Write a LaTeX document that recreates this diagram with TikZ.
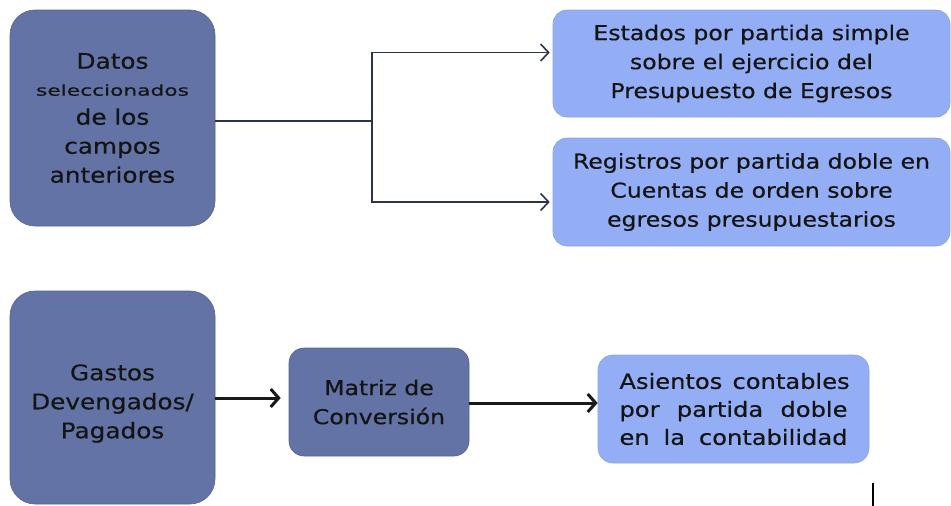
\documentclass[tikz,border=0pt]{standalone}
\usepackage{fontspec}
\usepackage{tikz}
\usepackage{xcolor}
\usetikzlibrary{arrows.meta}
\newfontfamily\diagfont{DejaVu Sans}[FakeStretch=1.15,FakeBold=0.5]
\newfontfamily\widefont{DejaVu Sans}[FakeStretch=1.45,FakeBold=0.5]
\definecolor{slatebox}{HTML}{6373A6}
\definecolor{skybox}{HTML}{94AEF5}
\definecolor{inkline}{HTML}{2B3350}
\tikzset{
  darkbox/.style={fill=slatebox, draw=slatebox!85!black, line width=0.6pt, rounded corners=25pt,
    align=center, inner sep=0pt, text=black!92, font=\diagfont\fontsize{21.5}{29}\selectfont},
  lightbox/.style={fill=skybox, draw=skybox!75!gray, line width=0.6pt, rounded corners=14pt,
    align=center, inner sep=0pt, text=black!92, font=\diagfont\fontsize{20.5}{29}\selectfont},
  thinarrow/.style={draw=inkline, line width=1.6pt, -{Straight Barb[length=8pt,width=17pt,line width=1.6pt]}},
  thickarrow/.style={draw=black!90, line width=3pt, -{Straight Barb[length=8pt,width=18pt,line width=3pt]}}
}
\newcommand{\fullline}[1]{\makebox[228pt][s]{#1}}
\begin{document}
\begin{tikzpicture}[x=1pt,y=-1pt]
\useasboundingbox (0,0) rectangle (951,506);
% upper row
\node[darkbox, minimum width=205pt, minimum height=216pt] (datos) at (112.5,118)
  {Datos\\[-2pt]{\widefont\fontsize{15}{20}\selectfont seleccionados}\\de los\\campos\\anteriores};
\node[lightbox, minimum width=397pt, minimum height=107pt] (estados) at (751.5,63.5)
  {Estados por partida simple\\sobre el ejercicio del\\Presupuesto de Egresos};
\node[lightbox, minimum width=397pt, minimum height=108pt] (registros) at (751.5,192)
  {Registros por partida doble en\\Cuentas de orden sobre\\egresos presupuestarios};
\coordinate (split) at (372,121);
\draw[draw=inkline, line width=1.8pt] (datos.east |- split) -- (split);
\draw[thinarrow] (split) |- ([xshift=-3pt,yshift=11pt]estados.west);
\draw[thinarrow] (split) |- ([xshift=-3pt,yshift=-10pt]registros.west);
% lower row
\node[darkbox, minimum width=205pt, minimum height=213pt] (gastos) at (112.5,397.5)
  {\rule{0pt}{28pt}Gastos\\Devengados/\\Pagados};
\node[darkbox, font=\diagfont\fontsize{20.5}{29}\selectfont, rounded corners=15pt,
  minimum width=180pt, minimum height=108pt] (matriz) at (379,402)
  {Matriz de\\Conversión};
\node[lightbox, font=\diagfont\fontsize{21}{28}\selectfont, rounded corners=15pt,
  minimum width=271pt, minimum height=108pt] (asientos) at (733.5,409)
  {\fullline{Asientos\ \ contables}\\\fullline{por partida doble}\\\fullline{en la contabilidad}};
\draw[thickarrow] (gastos.east |- 0,398) -- ([xshift=-8pt]matriz.west |- 0,398);
\draw[thickarrow] (matriz.east |- 0,403) -- (asientos.west |- 0,403);
\draw[line width=2pt] (873,483) -- (873,506);
\end{tikzpicture}
\end{document}
